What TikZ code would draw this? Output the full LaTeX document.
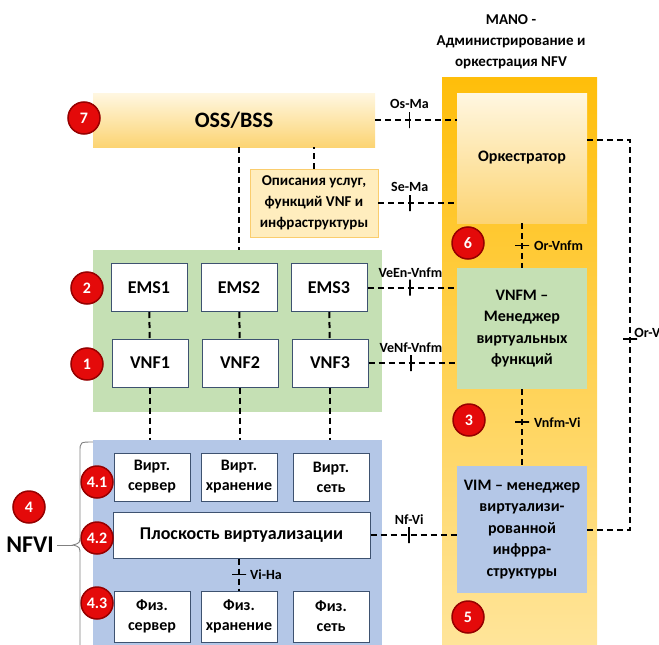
\documentclass[tikz,border=0pt]{standalone}
\usepackage{fontspec}
\setmainfont{Carlito}
\usetikzlibrary{positioning}

\definecolor{manoTop}{RGB}{255,190,10}
\definecolor{manoBot}{RGB}{255,229,155}
\definecolor{ossTop}{RGB}{255,247,225}
\definecolor{ossBot}{RGB}{252,212,115}
\definecolor{descFill}{RGB}{255,237,190}
\definecolor{descLine}{RGB}{250,205,110}
\definecolor{vnfGreen}{RGB}{197,224,180}
\definecolor{nfviBlue}{RGB}{180,199,231}
\definecolor{boxLine}{RGB}{62,82,112}
\definecolor{badgeRed}{RGB}{228,10,10}
\definecolor{badgeRim}{RGB}{150,0,0}

\begin{document}
\begin{tikzpicture}[x=1pt, y=-1pt,
    unit/.style={draw=boxLine, line width=1pt, fill=white, minimum width=76, minimum height=48,
        inner sep=1pt, align=center, font=\fontsize{16}{20}\selectfont\bfseries},
    area/.style={inner sep=0pt},
    mgrbox/.style={inner sep=0pt, minimum width=130, align=center, font=\fontsize{16}{21.5}\selectfont\bfseries},
    badge/.style={circle, fill=badgeRed, draw=badgeRim, line width=1.5pt, text=white, inner sep=0pt,
        minimum size=32, font=\fontsize{16}{18}\selectfont\bfseries},
    iface/.style={line width=2pt, dash pattern=on 6pt off 4pt},
    tickh/.style={draw, solid, line width=1.8pt, inner sep=0pt, minimum width=0pt, minimum height=16},
    tickv/.style={draw, solid, line width=1.8pt, inner sep=0pt, minimum width=14, minimum height=0pt},
    iflabel/.style={inner sep=1pt, font=\fontsize{14}{16}\selectfont\bfseries},
    bracket/.style={draw=black!50, line width=0.9pt}]
    \useasboundingbox (0,0) rectangle (659,645);
    \clip (0,0) rectangle (659,645);

    % ===== MANO (right column) =====
    \node[align=center, font=\fontsize{15}{21}\selectfont\bfseries] (manotitle) at (511,42)
        {MANO -\\Администрирование и\\оркестрация NFV};
    \node[area, minimum width=155, minimum height=574, top color=manoTop, bottom color=manoBot] (mano) at (519.5,364) {};
    \node[mgrbox, minimum height=130, top color=ossTop, bottom color=ossBot] (orch) at (522,158) {Оркестратор};
    \node[mgrbox, minimum height=121, fill=vnfGreen] (vnfm) at (522,328.5) {VNFM –\\Менеджер\\виртуальных\\функций};
    \node[mgrbox, minimum height=127, fill=nfviBlue] (vim) at (522,529.5)
        {VIM – менеджер\\виртуализи-\\рованной\\инфрра-\\структуры};
    \node[badge] (b6) at (468,243) {6};
    \node[badge] (b3) at (469,420) {3};
    \node[badge] (b5) at (468,617) {5};

    % ===== OSS/BSS and descriptions =====
    \node[area, minimum width=282, minimum height=54, top color=ossTop, bottom color=ossBot,
        font=\fontsize{22}{24}\selectfont\bfseries] (oss) at (234,120) {OSS/BSS};
    \node[badge] (b7) at (84,118) {7};
    \node[draw=descLine, line width=0.8pt, fill=descFill, inner sep=0pt, minimum width=128, minimum height=68,
        align=center, font=\fontsize{15}{21}\selectfont\bfseries] (desc) at (314,203)
        {Описания услуг,\\функций VNF и\\инфраструктуры};

    % ===== EMS / VNF =====
    \node[area, fill=vnfGreen, minimum width=289, minimum height=162] (vnfarea) at (237.5,331) {};
    \node[unit, font=\fontsize{18}{20}\selectfont\bfseries] (ems1) at (149,287.5) {EMS1};
    \node[unit, font=\fontsize{18}{20}\selectfont\bfseries] (ems2) at (239,287.5) {EMS2};
    \node[unit, font=\fontsize{18}{20}\selectfont\bfseries] (ems3) at (329,287.5) {EMS3};
    \node[unit, font=\fontsize{18}{20}\selectfont\bfseries] (vnf1) at (150,363) {VNF1};
    \node[unit, font=\fontsize{18}{20}\selectfont\bfseries] (vnf2) at (240,363) {VNF2};
    \node[unit, font=\fontsize{18}{20}\selectfont\bfseries] (vnf3) at (330,363) {VNF3};
    \node[badge] (b2) at (87,288) {2};
    \node[badge] (b1) at (87,364) {1};

    % ===== NFVI =====
    \node[area, fill=nfviBlue, minimum width=289, minimum height=212] (nfvi) at (237.5,546) {};
    \node[unit] (virtsrv) at (152,477) {Вирт.\\сервер};
    \node[unit] (virtstore) at (239,477) {Вирт.\\хранение};
    \node[unit] (virtnet) at (331,477) {Вирт.\\сеть};
    \node[unit, minimum width=257, minimum height=46, font=\fontsize{18}{20}\selectfont\bfseries] (plane) at (241.5,535)
        {Плоскость виртуализации};
    \node[unit, minimum height=51] (physsrv) at (152,616.5) {Физ.\\сервер};
    \node[unit, minimum height=51] (physstore) at (239,616.5) {Физ.\\хранение};
    \node[unit, minimum height=51] (physnet) at (331,616.5) {Физ.\\сеть};
    \node[badge] (b41) at (97,482) {4.1};
    \node[badge] (b42) at (97,538) {4.2};
    \node[badge] (b43) at (97,603) {4.3};
    \node[badge] (b4) at (29,507) {4};
    \node[font=\fontsize{24}{26}\selectfont\bfseries] (nfvilbl) at (30,545) {NFVI};

    % brace round the NFVI block
    \coordinate (bracetip) at (73,545);
    \draw[bracket] (93,442) .. controls (80,442) .. (80,452) -- (80,535)
        .. controls (80,543) .. (bracetip) .. controls (80,547) .. (80,555) -- (80,650);
    \draw[bracket] (nfvilbl.east) -- (bracetip);

    % reference points (dashed, no tick)
    \draw[iface] (oss.south -| ems2) -- (ems2 |- vnfarea.north);
    \draw[iface] (desc.north) -- (desc.north |- oss.south);
    \draw[iface] (ems1) -- (vnf1);
    \draw[iface] (ems2) -- (vnf2);
    \draw[iface] (ems3) -- (vnf3);
    \draw[iface] (vnf1.south) -- (vnf1.south |- nfvi.north);
    \draw[iface] (vnf2.south) -- (vnf2.south |- nfvi.north);
    \draw[iface] (vnf3.south) -- (vnf3.south |- nfvi.north);

    % reference points with tick marks
    \draw[iface] (oss.east |- 0,120) -- node[tickh, pos=.42] (tosma) {} (orch.west |- 0,120);
    \node[iflabel, above=1pt of tosma] (losma) {Os-Ma};
    \draw[iface] (desc.east) -- node[tickh, pos=.4] (tsema) {} (desc.east -| orch.west);
    \node[iflabel, above=1pt of tsema] (lsema) {Se-Ma};
    \draw[iface] (ems3.east) -- node[tickh, pos=.48] (tveen) {} (ems3.east -| vnfm.west);
    \node[iflabel, above=0pt of tveen] (lveen) {VeEn-Vnfm};
    \draw[iface] (vnf3.east) -- node[tickh, pos=.48] (tvenf) {} (vnf3.east -| vnfm.west);
    \node[iflabel, above=0pt of tvenf] (lvenf) {VeNf-Vnfm};
    \draw[iface] (plane.east) -- node[tickh, pos=.45] (tnfvi) {} (plane.east -| vim.west);
    \node[iflabel, above=0pt of tnfvi] (lnfvi) {Nf-Vi};
    \draw[iface] (orch.south) -- node[tickv, pos=.5] (torvnfm) {} (vnfm.north);
    \node[iflabel, right=3pt of torvnfm] (lorvnfm) {Or-Vnfm};
    \draw[iface] (vnfm.south) -- node[tickv, pos=.43] (tvnfmvi) {} (vim.north);
    \node[iflabel, right=3pt of tvnfmvi] (lvnfmvi) {Vnfm-Vi};
    \draw[iface] (plane.south -| physstore) -- node[tickv, pos=.5] (tviha) {} (physstore.north);
    \node[iflabel, right=2pt of tviha] (lviha) {Vi-Ha};
    \draw[iface] ([yshift=18pt]orch.east) -- ++(43,0) coordinate (orvi)
        -- (orvi |- vim.east) node[tickv, pos=.51] (torvi) {} -- (vim.east);
    \node[iflabel, anchor=south west] (lorvi) at ([xshift=-5pt]torvi.east) {Or-Vi};
\end{tikzpicture}
\end{document}
